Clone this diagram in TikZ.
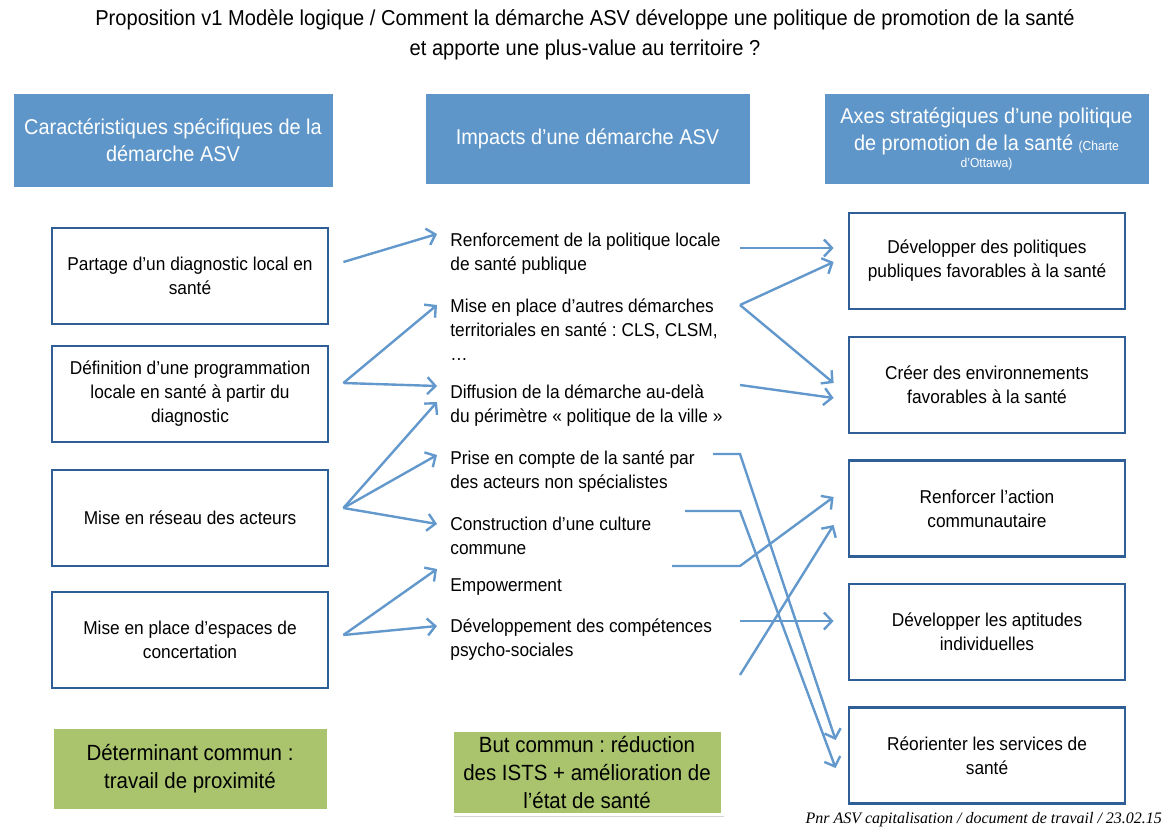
\documentclass[tikz,border=0pt]{standalone}
\usepackage{fontspec}
\setmainfont{Liberation Sans}[FakeStretch=0.93]
\newfontfamily\notefont{Liberation Serif}
\usetikzlibrary{arrows.meta,positioning,shadows}
\definecolor{head}{HTML}{5F96C9}
\definecolor{frame}{HTML}{2F5F96}
\definecolor{flowc}{HTML}{6298CC}
\definecolor{goal}{HTML}{A9C46C}
\frenchspacing

\tikzset{
  headbox/.style={fill=head,draw=white,line width=1.5pt,text=white,align=center,
    font=\fontsize{10.7}{13.5}\selectfont,
    drop shadow={shadow xshift=.8pt,shadow yshift=-1.2pt,opacity=.35}},
  stepbox/.style={draw=frame,line width=1.4pt,fill=white,align=center,
    minimum width=138pt,minimum height=48pt,font=\fontsize{9.3}{12}\selectfont},
  goalbox/.style={fill=goal,draw=white,line width=1.5pt,align=center,
    minimum width=138pt,font=\fontsize{11}{13.8}\selectfont,
    drop shadow={shadow xshift=.8pt,shadow yshift=-1.2pt,opacity=.35}},
  impact/.style={anchor=west,inner sep=0pt,align=left,font=\fontsize{9.3}{12}\selectfont},
  flow/.style={draw=flowc,line width=1.2pt,-{Straight Barb[length=4pt,width=8.5pt]}}
}

\begin{document}
\begin{tikzpicture}[x=0.5pt,y=-0.5pt]
    \path[use as bounding box] (0,0) rectangle (1176,830);
    \node[align=center,font=\fontsize{10.8}{15}\selectfont] (title) at (585,35)
      {Proposition v1 Modèle logique / Comment la démarche ASV développe une politique de promotion de la santé\\
       et apporte une plus-value au territoire ?};

    % en-tetes
    \node[headbox,minimum width=161pt,minimum height=48pt] (hA) at (173,140)
      {Caractéristiques spécifiques de la\\démarche ASV};
    \node[headbox,minimum width=163.5pt,minimum height=46.5pt] (hB) at (587.5,138.5)
      {Impacts d’une démarche ASV};
    \node[headbox,minimum width=163.5pt,minimum height=46.5pt,inner sep=1pt] (hC) at (986.5,138.5)
      {Axes stratégiques d’une politique\\de promotion de la santé {\fontsize{6.5}{8}\selectfont(Charte}\\[-5pt]
       {\fontsize{6.5}{8}\selectfont d’Ottawa)}};

    % colonne gauche
    \foreach \n/\y/\t in {l1/276/{Partage d’un diagnostic local en\\santé},
        l2/394/{Définition d’une programmation\\locale en santé à partir du\\diagnostic},
        l3/518/{Mise en réseau des acteurs},
        l4/640/{Mise en place d’espaces de\\concertation}} {
      \node[stepbox] (\n) at (190,\y) {\t};
    }

    % colonne droite
    \foreach \n/\y/\t in {r1/261/{Développer des politiques\\publiques favorables à la santé},
        r2/385/{Créer des environnements\\favorables à la santé},
        r3/508.5/{Renforcer l’action\\communautaire},
        r4/632/{Développer les aptitudes\\individuelles},
        r5/755.5/{Réorienter les services de\\santé}} {
      \node[stepbox] (\n) at (987,\y) {\t};
    }

    % impacts
    \node[impact] (m1) at (450,254) {Renforcement de la politique locale\\de santé publique};
    \node[impact] (m2) at (450,330) {Mise en place d’autres démarches\\territoriales en santé : CLS, CLSM,\\…};
    \node[impact] (m3) at (450,405.5) {Diffusion de la démarche au-delà\\du périmètre « politique de la ville »};
    \node[impact] (m4) at (450,472) {Prise en compte de la santé par\\des acteurs non spécialistes};
    \node[impact] (m5) at (450,535.5) {Construction d’une culture\\commune};
    \node[impact] (m6) at (450,587) {Empowerment};
    \node[impact] (m7) at (450,639.5) {Développement des compétences\\psycho-sociales};

    \node[goalbox,minimum height=41.5pt] (gA) at (190,768.5) {Déterminant commun :\\travail de proximité};
    \node[goalbox,minimum height=39.5pt,minimum width=135pt] (gB) at (587,772.5)
      {But commun : réduction\\des ISTS + amélioration de\\l’état de santé};

    % gauche -> impacts
    \draw[flow] ([shift={(14,-14)}]l1.east) -- ([shift={(-13,-20)}]m1.west);
    \draw[flow] ([shift={(14,-11)}]l2.east) -- ([shift={(-13,-25)}]m2.west);
    \draw[flow] ([shift={(14,-11)}]l2.east) -- ([shift={(-13,-19.5)}]m3.west);
    \draw[flow] ([shift={(14,-10)}]l3.east) -- ([shift={(-13,-3.5)}]m3.west);
    \draw[flow] ([shift={(14,-10)}]l3.east) -- ([shift={(-13,-17)}]m4.west);
    \draw[flow] ([shift={(14,-10)}]l3.east) -- ([shift={(-13,-11.5)}]m5.west);
    \draw[flow] ([shift={(14,-5)}]l4.east) -- ([shift={(-13,-18)}]m6.west);
    \draw[flow] ([shift={(14,-5)}]l4.east) -- ([shift={(-13,-13.5)}]m7.west);

    % impacts -> axes
    \draw[flow] ([shift={(290,-6)}]m1.west) -- ([shift={(-14,-13)}]r1.west);
    \draw[flow] ([shift={(290,-25)}]m2.west) -- ([shift={(-14,1)}]r1.west);
    \draw[flow] ([shift={(290,-25)}]m2.west) -- ([shift={(-14,-2)}]r2.west);
    \draw[flow] ([shift={(290,-20.5)}]m3.west) -- ([shift={(-14,13)}]r2.west);
    \draw[flow] ([shift={(263,-18)}]m4.west) -- ++(27,0) -- ([shift={(-12,-15.5)}]r5.west);
    \draw[flow] ([shift={(235,-24.5)}]m5.west) -- ++(55,0) -- ([shift={(-12,12.5)}]r5.west);
    \draw[flow] ([shift={(222,-21)}]m6.west) -- ++(68,0) -- ([shift={(-14,-11.5)}]r3.west);
    \draw[flow] ([shift={(290,-18.5)}]m7.west) -- ([shift={(-14,-11)}]r4.west);
    \draw[flow] ([shift={(290,35.5)}]m7.west) -- ([shift={(-14,16.5)}]r3.west);

    \node[anchor=east,font=\notefont\itshape\fontsize{8}{10}\selectfont] (note) at (1169,820)
      {Pnr ASV capitalisation / document de travail / 23.02.15};
  \end{tikzpicture}
\end{document}
